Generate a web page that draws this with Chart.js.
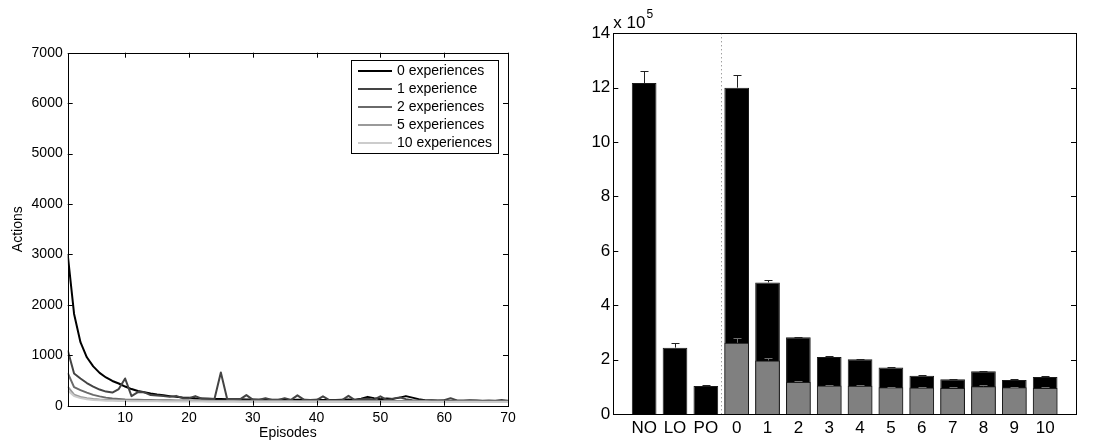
<!DOCTYPE html>
<html>
<head>
<meta charset="utf-8">
<title>Actions per episode / total actions</title>
<script src="https://cdn.jsdelivr.net/npm/chart.js@4.4.1/dist/chart.umd.min.js"></script>
<style>
    html, body { margin: 0; padding: 0; background: #fff; }
    body { width: 1105px; height: 443px; position: relative; overflow: hidden; }
    .panel { position: absolute; top: 0; }
    #leftPanel { left: 0; width: 545px; height: 443px; }
    #rightPanel { left: 545px; width: 560px; height: 443px; }
</style>
</head>
<body>
<div class="panel" id="leftPanel"><canvas id="linesChart" width="545" height="443"></canvas></div>
<div class="panel" id="rightPanel"><canvas id="barsChart" width="560" height="443"></canvas></div>
<script>
// ============================================================================
// DATA
// ============================================================================

// --- left panel: actions per episode ---
var seriesLabels = ['0 experiences', '1 experience', '2 experiences', '5 experiences', '10 experiences'];
var seriesColors = ['#000000', '#444444', '#6a6a6a', '#9a9a9a', '#cccccc'];
var yTicksLeft = [0, 1000, 2000, 3000, 4000, 5000, 6000, 7000];
var xTicksLeft = [10, 20, 30, 40, 50, 60, 70];

var exp0 = [3000, 1820, 1260, 960, 780, 650, 560, 490, 440, 380,
            330, 290, 265, 240, 220, 205, 190, 175, 165, 160,
            150, 145, 140, 135, 132, 130, 128, 126, 125, 122,
            120, 118, 120, 116, 118, 115, 120, 117, 115, 118,
            113, 115, 112, 118, 125, 120, 140, 175, 150, 130,
            145, 135, 160, 190, 160, 130, 110, 105, 100, 102,
            100, 98, 97, 98, 96, 95, 96, 95, 94, 95];
var exp1 = [1100, 640, 540, 450, 380, 320, 280, 260, 330, 540,
            190, 270, 265, 210, 200, 190, 175, 195, 150, 150,
            190, 140, 140, 135, 660, 130, 130, 125, 210, 120,
            118, 150, 115, 115, 150, 115, 205, 120, 115, 112,
            185, 110, 110, 112, 195, 110, 130, 140, 120, 185,
            115, 140, 165, 130, 110, 105, 105, 108, 105, 110,
            150, 105, 100, 110, 105, 100, 100, 100, 115, 100];
var exp2 = [650, 370, 310, 260, 215, 185, 160, 145, 135, 125,
            120, 118, 115, 112, 110, 108, 106, 105, 104, 103,
            102, 101, 100, 100, 99, 99, 98, 98, 97, 97,
            97, 96, 96, 96, 95, 95, 95, 95, 94, 94,
            94, 94, 93, 93, 93, 93, 93, 92, 92, 92,
            92, 92, 91, 91, 91, 91, 91, 90, 90, 90,
            90, 90, 90, 89, 89, 89, 89, 89, 89, 88];
var exp5 = [380, 220, 175, 150, 135, 125, 118, 112, 108, 105,
            102, 100, 98, 97, 96, 95, 94, 93, 92, 92,
            91, 91, 90, 90, 89, 89, 88, 88, 88, 87,
            87, 87, 86, 86, 86, 86, 85, 85, 85, 85,
            85, 84, 84, 84, 84, 84, 83, 83, 83, 83,
            83, 83, 82, 82, 82, 82, 82, 82, 81, 81,
            81, 81, 81, 81, 81, 80, 80, 80, 80, 80];
var exp10 = [300, 190, 150, 130, 115, 108, 100, 97, 94, 92,
             90, 89, 88, 87, 86, 85, 85, 84, 84, 83,
             83, 82, 82, 82, 81, 81, 81, 80, 80, 80,
             80, 79, 79, 79, 79, 79, 78, 78, 78, 78,
             78, 78, 77, 77, 77, 77, 77, 77, 77, 76,
             76, 76, 76, 76, 76, 76, 76, 75, 75, 75,
             75, 75, 75, 75, 75, 75, 74, 74, 74, 74];

// --- right panel: total actions (black) and gray part, with upper error bars ---
var barCategories = ['NO', 'LO', 'PO', '0', '1', '2', '3', '4', '5', '6', '7', '8', '9', '10'];
var totalActions = [1217000, 244000, 103000, 1200000, 484000, 282000, 210000, 201000, 171000, 141000, 128000, 157000, 125000, 136000];
var totalErrors  = [44000, 16000, 2000, 47000, 10000, 3000, 3000, 3000, 2000, 2000, 2000, 2000, 2000, 2000];
var grayActions  = [null, null, null, 262000, 197000, 118000, 105000, 104000, 98000, 97000, 96000, 102000, 98000, 96000];
var grayErrors   = [null, null, null, 16000, 8000, 4000, 3000, 3000, 3000, 3000, 3000, 3000, 3000, 3000];
var yTicksRight = [0, 200000, 400000, 600000, 800000, 1000000, 1200000, 1400000];

// ============================================================================
// SHARED STYLE
// ============================================================================
var FONT_FAMILY = '"Liberation Sans", Arial, Helvetica, sans-serif';
Chart.defaults.font.family = FONT_FAMILY;
Chart.defaults.color = '#000';
Chart.defaults.animation = false;

// no outside tick marks, no grid: the box and inward ticks are drawn by hand
var plainGrid = { display: false, drawTicks: false };

// Draws a MATLAB style box with inward tick marks
function drawBox(chart, xTicks, yTicks, tickLen) {
    var ctx = chart.ctx;
    var area = chart.chartArea;
    var xs = chart.scales.x;
    var ys = chart.scales.y;
    ctx.save();
    ctx.strokeStyle = '#000';
    ctx.lineWidth = 1;
    ctx.beginPath();
    xTicks.forEach(function(v) {
        var px = Math.round(xs.getPixelForValue(v)) + 0.5;
        ctx.moveTo(px, area.bottom); ctx.lineTo(px, area.bottom - tickLen);
        ctx.moveTo(px, area.top); ctx.lineTo(px, area.top + tickLen);
    });
    yTicks.forEach(function(v) {
        var py = Math.round(ys.getPixelForValue(v)) + 0.5;
        ctx.moveTo(area.left, py); ctx.lineTo(area.left + tickLen, py);
        ctx.moveTo(area.right, py); ctx.lineTo(area.right - tickLen, py);
    });
    ctx.stroke();
    ctx.strokeRect(Math.round(area.left) + 0.5, Math.round(area.top) + 0.5,
        Math.round(area.right - area.left), Math.round(area.bottom - area.top));
    ctx.restore();
}

// ============================================================================
// LEFT PANEL - line chart
// ============================================================================
var episodes = exp0.map(function(v, i) { return i + 1; });
var lineSeries = [exp0, exp1, exp2, exp5, exp10];

var leftBoxPlugin = {
    id: 'leftBox',
    afterDatasetsDraw: function(chart) {
        drawBox(chart, xTicksLeft, yTicksLeft, 5);
    },
    afterDraw: function(chart) {
        // legend box in the upper right corner of the axes
        var ctx = chart.ctx;
        var bx = 351, by = 60, bw = 147, bh = 93;
        ctx.save();
        ctx.fillStyle = '#fff';
        ctx.fillRect(bx, by, bw, bh);
        ctx.strokeStyle = '#000';
        ctx.lineWidth = 1;
        ctx.strokeRect(bx + 0.5, by + 0.5, bw, bh);
        ctx.font = '14px ' + FONT_FAMILY;
        ctx.textAlign = 'left';
        ctx.textBaseline = 'middle';
        seriesLabels.forEach(function(label, i) {
            var ry = by + 11 + i * 18;
            ctx.strokeStyle = seriesColors[i];
            ctx.lineWidth = 2;
            ctx.beginPath();
            ctx.moveTo(358, ry);
            ctx.lineTo(392, ry);
            ctx.stroke();
            ctx.fillStyle = '#000';
            ctx.fillText(label, 397, ry);
        });
        ctx.restore();
    }
};

new Chart(document.getElementById('linesChart'), {
    type: 'line',
    data: {
        labels: episodes,
        datasets: lineSeries.map(function(values, i) {
            return {
                label: seriesLabels[i],
                data: values,
                borderColor: seriesColors[i],
                borderWidth: 2,
                pointRadius: 0,
                tension: 0,
                fill: false,
                borderJoinStyle: 'round'
            };
        }).reverse()
    },
    options: {
        responsive: false,
        animation: false,
        layout: { padding: { top: 52.7, right: 37, bottom: 0, left: 0 } },
        plugins: { legend: { display: false }, tooltip: { enabled: false } },
        scales: {
            x: {
                type: 'linear',
                min: 1,
                max: 70,
                grid: plainGrid,
                border: { display: false },
                afterBuildTicks: function(scale) {
                    scale.ticks = xTicksLeft.map(function(v) { return { value: v }; });
                },
                afterFit: function(scale) { scale.height = 37.3; },
                ticks: {
                    font: { size: 14 }, padding: 4, maxRotation: 0, autoSkip: false, color: '#000',
                    callback: function(value) { return String(value); }
                },
                title: { display: true, text: 'Episodes', font: { size: 14 }, padding: { top: 0, bottom: 1 }, color: '#000' }
            },
            y: {
                min: 0,
                max: 7000,
                grid: plainGrid,
                border: { display: false },
                afterBuildTicks: function(scale) {
                    scale.ticks = yTicksLeft.map(function(v) { return { value: v }; });
                },
                afterFit: function(scale) { scale.width = 67.7; },
                ticks: {
                    font: { size: 14 }, padding: 5, color: '#000',
                    callback: function(value) { return String(value); }
                },
                title: { display: true, text: 'Actions', font: { size: 14 }, padding: { top: 10, bottom: 0 }, color: '#000' }
            }
        }
    },
    plugins: [leftBoxPlugin]
});

// ============================================================================
// RIGHT PANEL - overlapping bars with upper error bars
// ============================================================================
var rightBoxPlugin = {
    id: 'rightBox',
    afterDatasetsDraw: function(chart) {
        var ctx = chart.ctx;
        var area = chart.chartArea;
        var xs = chart.scales.x;
        var ys = chart.scales.y;

        // dotted separator between baselines and experience counts
        ctx.save();
        var sepX = Math.round(xs.getPixelForValue(3.5)) + 0.5;
        ctx.strokeStyle = '#777';
        ctx.lineWidth = 1;
        ctx.setLineDash([1, 3]);
        ctx.beginPath();
        ctx.moveTo(sepX, area.top);
        ctx.lineTo(sepX, area.bottom);
        ctx.stroke();
        ctx.setLineDash([]);

        // upper error bars
        function errBar(values, errors, color) {
            ctx.strokeStyle = color;
            ctx.lineWidth = 1;
            ctx.beginPath();
            values.forEach(function(v, i) {
                if (v === null) return;
                var px = Math.round(xs.getPixelForValue(i + 1)) + 0.5;
                var yb = ys.getPixelForValue(v);
                var yt = Math.round(ys.getPixelForValue(v + errors[i])) + 0.5;
                ctx.moveTo(px, yb); ctx.lineTo(px, yt);
                ctx.moveTo(px - 4, yt); ctx.lineTo(px + 4, yt);
            });
            ctx.stroke();
        }
        errBar(totalActions, totalErrors, '#222');
        errBar(grayActions, grayErrors, '#6e6e6e');
        ctx.restore();

        drawBox(chart, [], yTicksRight, 5);
    },
    afterDraw: function(chart) {
        // exponent label above the y axis
        var ctx = chart.ctx;
        var area = chart.chartArea;
        ctx.save();
        ctx.fillStyle = '#000';
        ctx.textAlign = 'left';
        ctx.textBaseline = 'middle';
        ctx.font = '17px ' + FONT_FAMILY;
        ctx.fillText('x 10', area.left, 23);
        var w = ctx.measureText('x 10').width;
        ctx.font = '12px ' + FONT_FAMILY;
        ctx.fillText('5', area.left + w + 1, 15);
        ctx.restore();
    }
};

function toPoints(values) {
    return values.map(function(v, i) { return { x: i + 1, y: v }; });
}

new Chart(document.getElementById('barsChart'), {
    type: 'bar',
    data: {
        datasets: [
            {
                label: 'gray',
                data: toPoints(grayActions),
                backgroundColor: '#808080',
                borderColor: '#1a1a1a',
                borderWidth: 1,
                grouped: false,
                categoryPercentage: 1,
                barPercentage: 0.8
            },
            {
                label: 'total',
                data: toPoints(totalActions),
                backgroundColor: '#000000',
                borderColor: '#1a1a1a',
                borderWidth: 1,
                grouped: false,
                categoryPercentage: 1,
                barPercentage: 0.8
            }
        ]
    },
    options: {
        responsive: false,
        animation: false,
        layout: { padding: { top: 33.3, right: 29, bottom: 0, left: 0 } },
        plugins: { legend: { display: false }, tooltip: { enabled: false } },
        scales: {
            x: {
                type: 'linear',
                min: 0,
                max: 15,
                offset: false,
                grid: plainGrid,
                border: { display: false },
                afterBuildTicks: function(scale) {
                    scale.ticks = barCategories.map(function(c, i) { return { value: i + 1 }; });
                },
                afterFit: function(scale) { scale.height = 29; },
                ticks: {
                    font: { size: 17 },
                    padding: 4,
                    maxRotation: 0,
                    autoSkip: false,
                    color: '#000',
                    callback: function(value) { return barCategories[value - 1]; }
                }
            },
            y: {
                min: 0,
                max: 1400000,
                grid: plainGrid,
                border: { display: false },
                afterBuildTicks: function(scale) {
                    scale.ticks = yTicksRight.map(function(v) { return { value: v }; });
                },
                afterFit: function(scale) { scale.width = 68.3; },
                ticks: {
                    font: { size: 17 },
                    padding: 3,
                    color: '#000',
                    callback: function(value) { return String(value / 100000); }
                }
            }
        }
    },
    plugins: [rightBoxPlugin]
});
</script>
</body>
</html>
